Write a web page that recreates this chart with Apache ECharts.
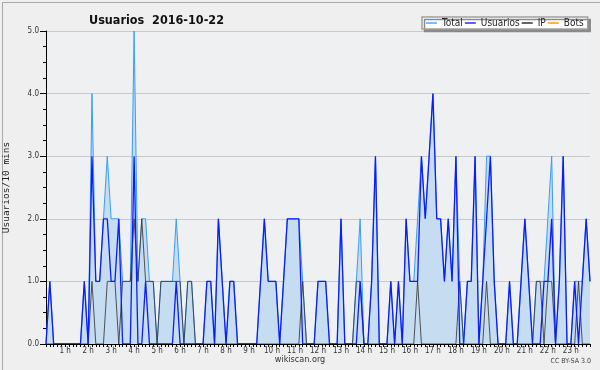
<!DOCTYPE html>
<html><head><meta charset="utf-8">
<script src="https://cdn.jsdelivr.net/npm/echarts@6/dist/echarts.min.js"></script>
<style>html,body{margin:0;padding:0;background:#efefef}#c{width:600px;height:370px}</style>
</head><body><div id="c"></div>
<script>
// 10-minute buckets, 00:10 .. 23:50
const times = [];
for (let i = 1; i <= 143; i++) { const m = i * 10; times.push(String(Math.floor(m / 60)).padStart(2, '0') + ':' + String(m % 60).padStart(2, '0')); }
const hourLabels = ["1 h","2 h","3 h","4 h","5 h","6 h","7 h","8 h","9 h","10 h","11 h","12 h","13 h","14 h","15 h","16 h","17 h","18 h","19 h","20 h","21 h","22 h","23 h"];
const yTicks = ["0.0","1.0","2.0","3.0","4.0","5.0"];

const usuarios = [0,1,0,0,0,0,0,0,0,0, 1,0,3,1,1,2,2,1,1,2, 0,0,0,3,0,0,1,0,0,0, 0,0,0,0,1,0,0,0,0,0,
  0,0,1,1,0,2,1,0,1,1, 0,0,0,0,0,0,1,2,1,1, 1,0,1,2,2,2,2,0,0,0, 0,1,1,1,0,0,0,2,0,0,
  0,0,1,0,0,1,3,0,0,0, 1,0,1,0,2,1,1,1,3,2, 3,4,2,2,1,2,1,3,0,0, 1,1,3,0,1,2,3,1,0,0,
  0,1,0,0,1,2,1,0,0,0, 1,1,2,0,1,3,0,0,1,0, 1,2,1];
const ip = [0,0,0,0,0,0,0,0,0,0, 0,0,1,0,0,0,1,1,1,0, 1,1,1,2,1,2,1,1,1,0, 1,1,1,1,1,1,0,1,1,0,
  0,0,0,0,0,0,0,0,0,0, 0,0,0,0,0,0,0,0,0,0, 0,0,0,0,0,0,0,1,0,0, 0,0,0,0,0,0,0,0,0,0,
  0,1,1,0,0,0,0,0,0,0, 0,0,0,0,0,0,0,1,0,0, 0,0,0,0,0,0,0,0,1,0, 0,0,0,0,0,1,0,0,0,0,
  0,0,0,0,0,0,0,0,1,1, 0,1,1,0,0,0,0,0,0,1, 0,0,0];
const bots = [0,0,0,0,0,0,0,0,0,0, 0,0,0,0,0,0,0,0,0,0, 0,0,0,0,0,0,0,0,0,0, 0,0,0,0,0,0,0,0,0,0,
  0,0,0,0,0,0,0,0,0,0, 0,0,0,0,0,0,0,0,0,0, 0,0,0,0,0,0,0,0,0,0, 0,0,0,0,0,0,0,0,0,0,
  0,0,0,0,0,0,0,0,0,0, 0,0,0,0,0,0,0,0,0,0, 0,0,0,0,0,0,0,0,0,0, 0,0,0,0,0,0,0,0,0,0,
  0,0,0,0,0,0,0,0,0,0, 0,0,0,0,0,0,0,0,0,0, 0,0,0];
const total = [0,1,0,0,0,0,0,0,0,0, 1,0,4,1,1,2,3,2,2,2, 1,1,1,5,1,2,2,1,1,0, 1,1,1,1,2,1,0,1,1,0,
  0,0,1,1,0,2,1,0,1,1, 0,0,0,0,0,0,1,2,1,1, 1,0,1,2,2,2,2,1,0,0, 0,1,1,1,0,0,0,2,0,0,
  0,1,2,0,0,1,3,0,0,0, 1,0,1,0,2,1,1,2,3,2, 3,4,2,2,1,2,1,3,1,0, 1,1,3,0,1,3,3,1,0,0,
  0,1,0,0,1,2,1,0,1,1, 1,2,3,0,1,3,0,0,1,1, 1,2,1];

const FONT = "'DejaVu Sans Condensed','DejaVu Sans',sans-serif";
const chart = echarts.init(document.getElementById('c'), null, {renderer: 'canvas'});
chart.setOption({
  backgroundColor: '#efefef',
  animation: false,
  title: {
    text: 'Usuarios  2016-10-22', left: 84, top: 9,
    textStyle: {fontFamily: FONT, fontSize: 12.5, fontWeight: 'bold', color: '#111'}
  },
  legend: {
    left: 422, top: 17, padding: [1, 4], itemGap: 2, itemWidth: 11, itemHeight: 1.5, icon: 'rect',
    backgroundColor: '#fff', borderColor: '#a0a0a0', borderWidth: 1.5,
    shadowColor: '#8a8a8a', shadowBlur: 0, shadowOffsetX: 2.5, shadowOffsetY: 2.5,
    textStyle: {fontFamily: FONT, fontSize: 10, color: '#222'},
    data: ['Total', 'Usuarios', 'IP', 'Bots']
  },
  grid: {left: 46, right: 10, top: 31, bottom: 26, show: true, backgroundColor: '#eef0f2', borderWidth: 0,
         containLabel: false, outerBoundsMode: 'none'},
  xAxis: {
    type: 'category', data: times, boundaryGap: false, z: 5,
    axisLine: {lineStyle: {color: '#000', width: 1}},
    axisTick: {show: true, interval: 0, length: 3, lineStyle: {color: '#000'}},
    axisLabel: {
      interval: (idx) => (idx + 1) % 6 === 0,
      formatter: (v, idx) => hourLabels[(idx + 1) / 6 - 1] || '',
      fontFamily: FONT, fontSize: 8, color: '#333', margin: 3
    },
    splitLine: {show: false}
  },
  yAxis: {
    type: 'value', min: 0, max: 5, interval: 1,
    name: 'Usuarios/10 mins', nameLocation: 'middle', nameGap: 34,
    nameTextStyle: {fontFamily: "'DejaVu Sans Mono',monospace", fontSize: 9.5, color: '#222'},
    axisLine: {show: true, lineStyle: {color: '#000', width: 1}},
    axisTick: {show: true, length: 6, lineStyle: {color: '#000'}},
    minorTick: {show: true, splitNumber: 4, length: 3, lineStyle: {color: '#000'}},
    axisLabel: {formatter: (v) => yTicks[Math.round(v)], fontFamily: FONT, fontSize: 8, color: '#333', margin: 7},
    splitLine: {show: true, lineStyle: {color: '#c9c9c9', width: 1}}
  },
  series: [
    {name: 'Total', type: 'line', data: total, symbol: 'none', z: 2,
     lineStyle: {color: '#3b9cf5', width: 1}, itemStyle: {color: '#4aa8ff'},
     areaStyle: {color: '#c5dcf1', opacity: 1}},
    {name: 'IP', type: 'line', data: ip, symbol: 'none', z: 3,
     lineStyle: {color: '#383838', width: 1, opacity: 0.85}, itemStyle: {color: '#333'}},
    {name: 'Usuarios', type: 'line', data: usuarios, symbol: 'none', z: 4,
     lineStyle: {color: '#0c1cff', width: 1.3}, itemStyle: {color: '#2a2aff'}},
    {name: 'Bots', type: 'line', data: bots, symbol: 'none', z: 1,
     lineStyle: {color: '#ff9900', width: 1}, itemStyle: {color: '#ff9900'}}
  ],
  graphic: [
    {type: 'rect', left: 0, top: 0, shape: {width: 599, height: 369}, silent: true,
     style: {fill: 'none', stroke: '#a8a8a8', lineWidth: 1}},
    {type: 'text', left: 'center', top: 355,
     style: {text: 'wikiscan.org', fontFamily: FONT, fontSize: 9, fill: '#333'}},
    {type: 'text', right: 9, top: 358,
     style: {text: 'CC BY-SA 3.0', fontFamily: FONT, fontSize: 7, fill: '#444'}}
  ]
});
</script></body></html>
